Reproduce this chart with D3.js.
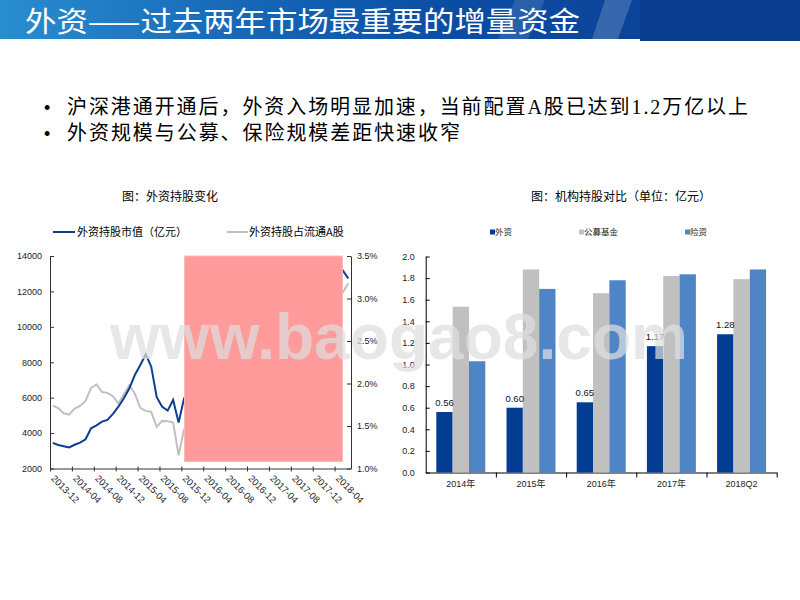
<!DOCTYPE html>
<html><head><meta charset="utf-8">
<script src="https://cdn.jsdelivr.net/npm/d3@7"></script>
<style>body{margin:0;background:#fff}svg{display:block}</style>
</head><body>
<svg id="c" width="800" height="600"></svg>
<script>
// ---------- data ----------
const months = ["2013-12",
 "2014-01","2014-02","2014-03","2014-04","2014-05","2014-06","2014-07","2014-08","2014-09","2014-10","2014-11","2014-12",
 "2015-01","2015-02","2015-03","2015-04","2015-05","2015-06","2015-07","2015-08","2015-09","2015-10","2015-11","2015-12",
 "2016-01","2016-02","2016-03","2016-04","2016-05","2016-06","2016-07","2016-08","2016-09","2016-10","2016-11","2016-12",
 "2017-01","2017-02","2017-03","2017-04","2017-05","2017-06","2017-07","2017-08","2017-09","2017-10","2017-11","2017-12",
 "2018-01","2018-02","2018-03","2018-04","2018-05","2018-06"];
const monthTickLabels = ["2013-12","2014-04","2014-08","2014-12","2015-04","2015-08","2015-12","2016-04","2016-08","2016-12","2017-04","2017-08","2017-12","2018-04"];
// 外资持股市值（亿元） — months hidden under the overlay box are null
const holdValue = [3450,3330,3260,3190,3340,3460,3650,4270,4440,4650,4740,5080,5490,5970,6530,7280,7850,8450,7750,6030,5490,5270,5870,4590,5970,
 null,null,null,null,null,null,null,null,null,null,null,null,null,null,null,null,null,null,null,null,null,null,null,null,null,null,null,null,
 13190,12740];
// 外资持股占流通A股 (%)
const holdShare = [1.74,1.71,1.65,1.635,1.705,1.736,1.795,1.948,1.988,1.90,1.89,1.85,1.764,1.874,1.98,1.88,1.713,1.678,1.666,1.49,1.56,1.556,1.54,1.156,1.46,
 null,null,null,null,null,null,null,null,null,null,null,null,null,null,null,null,null,null,null,null,null,null,null,null,null,null,null,null,
 3.07,3.18];
const leftTicks = [2000,4000,6000,8000,10000,12000,14000];
const rightTicks = [1.0,1.5,2.0,2.5,3.0,3.5];

const years = ["2014年","2015年","2016年","2017年","2018Q2"];
const seriesNames = ["外资","公募基金","险资"];
const foreign = [0.56,0.60,0.65,1.17,1.28];
const publicFund = [1.535,1.88,1.66,1.82,1.79];
const insurance = [1.03,1.70,1.78,1.835,1.88];
const barTicks = [0,0.2,0.4,0.6,0.8,1.0,1.2,1.4,1.6,1.8,2.0];

const bullets = ["沪深港通开通后，外资入场明显加速，当前配置A股已达到1.2万亿以上","外资规模与公募、保险规模差距快速收窄"];

// ---------- drawing ----------
const svg = d3.select("#c");
const CJK = "'Noto Sans CJK SC', sans-serif";
const NUM = "'Liberation Sans', Arial, sans-serif";

// banner
const defs = svg.append("defs");
const g1 = defs.append("linearGradient").attr("id","ban").attr("x1","0").attr("x2","1").attr("y1","0").attr("y2","0");
[["0%","#2a8dd0"],["30%","#1668b8"],["55%","#0b4ea5"],["100%","#0a3c90"]].forEach(s=>g1.append("stop").attr("offset",s[0]).attr("stop-color",s[1]));
svg.append("rect").attr("x",0).attr("y",0).attr("width",800).attr("height",39).attr("fill","url(#ban)");
svg.append("rect").attr("x",640).attr("y",0).attr("width",160).attr("height",41).attr("fill","#0b3d8f");
svg.append("polygon").attr("points","515,0 545,0 528,39 498,39").attr("fill","#ffffff").attr("opacity",0.12);
svg.append("polygon").attr("points","605,0 632,0 618,39 592,39").attr("fill","#ffffff").attr("opacity",0.18);
svg.append("text").attr("x",25).attr("y",32).attr("fill","#fff").attr("font-family",CJK).attr("font-size",28)
  .attr("textLength",555).attr("lengthAdjust","spacingAndGlyphs").text("外资——过去两年市场最重要的增量资金");

// bullets
bullets.forEach((t,i)=>{
  const y = 114 + i*26;
  svg.append("text").attr("x",44).attr("y",y).attr("font-family",NUM).attr("font-size",18).attr("fill","#000").text("•");
  const tx = svg.append("text").attr("x",67).attr("y",y).attr("font-family","'Liberation Serif', "+CJK).attr("font-size",20).attr("fill","#000").text(t);
  if(i===0) tx.attr("textLength",681).attr("lengthAdjust","spacing");
  else tx.attr("textLength",393).attr("lengthAdjust","spacing");
});

// ---------- left chart ----------
const L = {x0:50, x1:351, yTop:256, yBot:468.5};
const xB = d3.scaleBand().domain(months).range([L.x0,L.x1]).padding(0);
const bw = xB.bandwidth();
const xIdx = d3.scaleLinear().domain([0,months.length]).range([L.x0,L.x1]);
const yL = d3.scaleLinear().domain([2000,14000]).range([L.yBot,L.yTop]);
const yR = d3.scaleLinear().domain([1.0,3.5]).range([L.yBot,L.yTop]);

svg.append("text").attr("x",170).attr("y",201).attr("text-anchor","middle").attr("font-family",CJK).attr("font-size",12).text("图：外资持股变化");
// legend
svg.append("line").attr("x1",53).attr("x2",75).attr("y1",232).attr("y2",232).attr("stroke","#0b3f92").attr("stroke-width",2);
svg.append("text").attr("x",77).attr("y",236).attr("font-family",CJK).attr("font-size",11).text("外资持股市值（亿元）");
svg.append("line").attr("x1",227).attr("x2",248).attr("y1",232).attr("y2",232).attr("stroke","#c0c0c0").attr("stroke-width",2);
svg.append("text").attr("x",249).attr("y",236).attr("font-family",CJK).attr("font-size",11).text("外资持股占流通A股");

function styleAxis(g, fs){
  g.selectAll("path.domain").attr("stroke","#333");
  g.selectAll(".tick line").attr("stroke","#333");
  g.selectAll("text").attr("font-family",NUM).attr("font-size",fs).attr("fill","#222");
}
const gl = svg.append("g").attr("transform",`translate(${L.x0},0)`)
  .call(d3.axisLeft(yL).tickValues(leftTicks).tickSize(-4).tickSizeOuter(0).tickPadding(8).tickFormat(d3.format("d")));
styleAxis(gl,9);
const gr = svg.append("g").attr("transform",`translate(${L.x1},0)`)
  .call(d3.axisRight(yR).tickValues(rightTicks).tickSize(-4).tickSizeOuter(0).tickPadding(6).tickFormat(d=>d.toFixed(1)+"%"));
styleAxis(gr,9);
const gbt = svg.append("g").attr("transform",`translate(0,${L.yBot})`)
  .call(d3.axisBottom(xIdx).tickValues(d3.range(0,53,4)).tickSize(3).tickSizeOuter(0).tickFormat(""));
styleAxis(gbt,9);
gbt.selectAll(".tick line").attr("y1",-2);
const gbl = svg.append("g").attr("transform",`translate(0,${L.yBot})`)
  .call(d3.axisBottom(xB).tickValues(monthTickLabels).tickSize(0));
gbl.select("path.domain").remove();
gbl.selectAll("text").attr("font-family",NUM).attr("font-size",9.5).attr("fill","#222")
  .attr("x",6).attr("y",9).attr("dy",0).attr("text-anchor","start").attr("transform","rotate(45)");

const ptsV = months.map((m,i)=>({m,v:holdValue[i]})).filter(d=>d.v!=null);
const ptsS = months.map((m,i)=>({m,v:holdShare[i]})).filter(d=>d.v!=null);
svg.append("path").datum(ptsS).attr("fill","none").attr("stroke","#c0c0c0").attr("stroke-width",2)
  .attr("d",d3.line().x(d=>xB(d.m)+bw/2).y(d=>yR(d.v)));
svg.append("path").datum(ptsV).attr("fill","none").attr("stroke","#0b3f92").attr("stroke-width",2)
  .attr("d",d3.line().x(d=>xB(d.m)+bw/2).y(d=>yL(d.v)));

// overlay box covering the middle months (centre of 2015-12 to centre of 2018-05)
const bx0 = xB("2015-12")+bw/2+0.4, bx1 = xB("2018-05")+bw/2-0.4;
svg.append("rect").attr("x",bx0).attr("y",L.yTop)
  .attr("width",bx1-bx0).attr("height",461.5-L.yTop)
  .attr("fill","#ff9b9b").attr("stroke","#ffb8b8").attr("stroke-width",1);

// ---------- right chart ----------
const R = {x0:425.7, x1:776.7, yTop:256.5, yBot:472.5};
const xC = d3.scaleBand().domain(years).range([R.x0,R.x1]).padding(0);
const xS = d3.scaleBand().domain(seriesNames).range([0,xC.bandwidth()]).paddingInner(0).paddingOuter(0.65);
const xCi = d3.scaleLinear().domain([0,years.length]).range([R.x0,R.x1]);
const yB = d3.scaleLinear().domain([0,2]).range([R.yBot,R.yTop]);
const colors = {"外资":"#023d93","公募基金":"#c0c0c0","险资":"#4f85c6"};
const values = {"外资":foreign,"公募基金":publicFund,"险资":insurance};

svg.append("text").attr("x",621).attr("y",201).attr("text-anchor","middle").attr("font-family",CJK).attr("font-size",12).text("图：机构持股对比（单位：亿元）");
[[490,"外资"],[579,"公募基金"],[685,"险资"]].forEach(([lx,n])=>{
  svg.append("rect").attr("x",lx).attr("y",229.5).attr("width",5).attr("height",5).attr("fill",colors[n]);
  svg.append("text").attr("x",lx+5).attr("y",235).attr("font-family",CJK).attr("font-size",8.5).attr("fill","#222").text(n);
});

const ya = svg.append("g").attr("transform",`translate(${R.x0},0)`)
  .call(d3.axisLeft(yB).tickValues(barTicks).tickSize(-4).tickSizeOuter(0).tickPadding(11).tickFormat(d3.format(".1f")));
styleAxis(ya,9);
ya.selectAll("path.domain,.tick line").attr("stroke","#000");
const xa = svg.append("g").attr("transform",`translate(0,${R.yBot})`)
  .call(d3.axisBottom(xCi).tickValues(d3.range(1,years.length+1)).tickSize(5).tickSizeOuter(0).tickFormat(""));
styleAxis(xa,9);
xa.selectAll("path.domain,.tick line").attr("stroke","#000");
const xl = svg.append("g").attr("transform",`translate(0,${R.yBot})`)
  .call(d3.axisBottom(xC).tickSize(0).tickPadding(8));
xl.select("path.domain").remove();
xl.selectAll("text").attr("font-family",NUM+", "+CJK).attr("font-size",9).attr("fill","#222");

seriesNames.forEach(n=>{
  svg.append("g").selectAll("rect").data(years.map((y,i)=>({y,v:values[n][i]}))).join("rect")
    .attr("x",d=>xC(d.y)+xS(n)).attr("width",xS.bandwidth())
    .attr("y",d=>yB(d.v)).attr("height",d=>yB(0)-yB(d.v))
    .attr("fill",colors[n]);
});
svg.append("g").selectAll("text").data(years.map((y,i)=>({y,v:foreign[i]}))).join("text")
  .attr("x",d=>xC(d.y)+xS("外资")+xS.bandwidth()/2).attr("y",d=>yB(d.v)-6)
  .attr("text-anchor","middle").attr("font-family",NUM).attr("font-size",9.5).attr("fill","#111")
  .text(d=>d.v.toFixed(2));

// watermark
svg.append("text").attr("x",110).attr("y",359).attr("font-family","'Liberation Sans', Arial, sans-serif").attr("font-weight","bold")
  .attr("font-size",64).attr("textLength",578).attr("lengthAdjust","spacingAndGlyphs")
  .attr("fill","rgb(222,222,222)").attr("fill-opacity",0.72).text("www.baogao8.com");
</script>
</body></html>
